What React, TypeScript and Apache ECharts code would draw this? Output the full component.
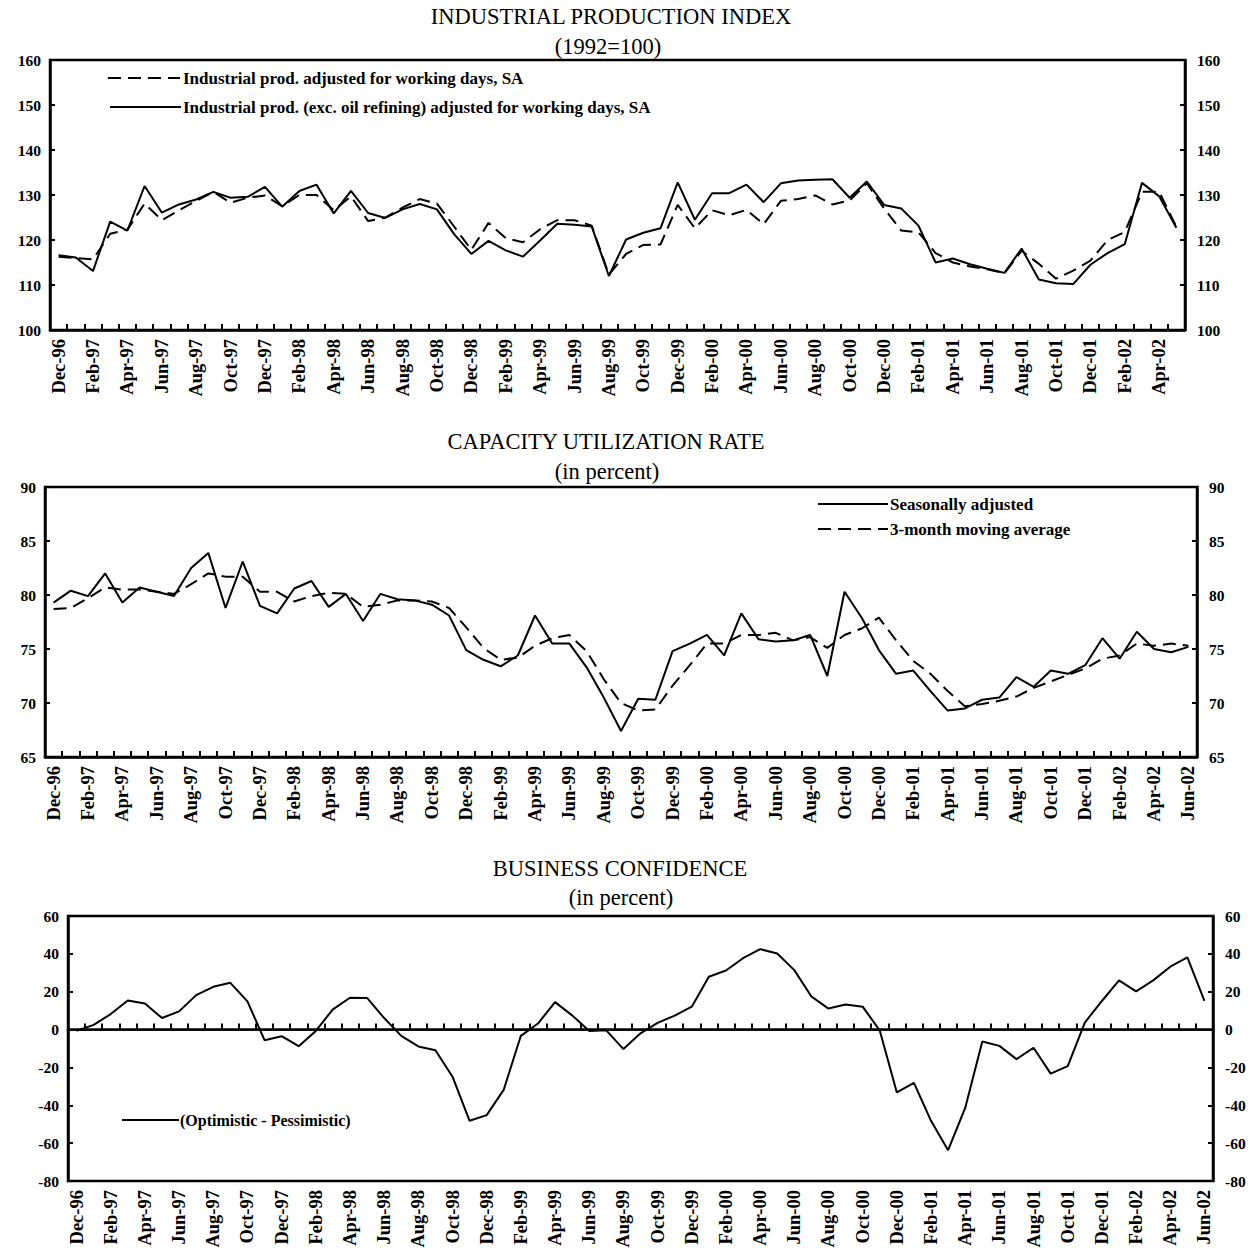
import React, { useEffect, useRef } from "react";
import * as echarts from "echarts";

const months = [
  "Dec-96","Jan-97","Feb-97","Mar-97","Apr-97","May-97","Jun-97","Jul-97","Aug-97","Sep-97","Oct-97","Nov-97",
  "Dec-97","Jan-98","Feb-98","Mar-98","Apr-98","May-98","Jun-98","Jul-98","Aug-98","Sep-98","Oct-98","Nov-98",
  "Dec-98","Jan-99","Feb-99","Mar-99","Apr-99","May-99","Jun-99","Jul-99","Aug-99","Sep-99","Oct-99","Nov-99",
  "Dec-99","Jan-00","Feb-00","Mar-00","Apr-00","May-00","Jun-00","Jul-00","Aug-00","Sep-00","Oct-00","Nov-00",
  "Dec-00","Jan-01","Feb-01","Mar-01","Apr-01","May-01","Jun-01","Jul-01","Aug-01","Sep-01","Oct-01","Nov-01",
  "Dec-01","Jan-02","Feb-02","Mar-02","Apr-02","May-02","Jun-02",
];
const monthsIP = months.slice(0, 66);

// Industrial production index (1992=100)
const ipAdjusted = [
  116.3, 116.0, 115.7, 121.4, 122.3, 128.1, 124.4, 126.6, 128.7, 130.7,
  128.3, 129.4, 129.9, 127.5, 130.0, 130.0, 126.6, 129.7, 124.2, 125.0,
  127.2, 129.1, 128.1, 123.0, 117.8, 123.8, 120.4, 119.5, 122.4, 124.4,
  124.4, 123.2, 112.3, 116.9, 118.9, 119.0, 127.8, 122.6, 126.6, 125.5,
  126.7, 123.5, 128.7, 129.1, 129.9, 127.9, 128.8, 132.6, 127.0, 122.1,
  121.7, 117.1, 115.0, 114.1, 113.5, 112.6, 117.6, 114.7, 111.4, 113.2,
  115.4, 120.0, 121.8, 130.7, 130.7, 122.9,
];
const ipExOil = [
  116.6, 116.1, 113.1, 124.1, 122.1, 132.0, 126.1, 127.9, 129.0, 130.7,
  129.4, 129.6, 131.8, 127.4, 130.9, 132.3, 125.9, 130.9, 126.0, 124.9,
  126.8, 128.0, 126.8, 121.3, 116.9, 119.8, 117.7, 116.3, 119.9, 123.6,
  123.4, 123.0, 112.0, 120.1, 121.6, 122.6, 132.8, 124.5, 130.4, 130.4,
  132.3, 128.4, 132.6, 133.2, 133.4, 133.5, 129.4, 133.0, 127.8, 127.0,
  123.2, 115.0, 115.9, 114.6, 113.6, 112.7, 118.1, 111.2, 110.4, 110.2,
  114.5, 117.1, 119.1, 132.7, 129.7, 122.7,
];

// Capacity utilization rate (%)
const cuSA = [
  79.3, 80.4, 79.9, 82.0, 79.3, 80.7, 80.3, 79.9, 82.5, 83.9,
  78.8, 83.1, 79.0, 78.3, 80.6, 81.3, 78.9, 80.1, 77.6, 80.1,
  79.6, 79.5, 79.1, 78.1, 74.9, 74.0, 73.4, 74.4, 78.1, 75.5,
  75.5, 73.3, 70.5, 67.4, 70.4, 70.3, 74.8, 75.5, 76.3, 74.4,
  78.3, 75.9, 75.7, 75.8, 76.3, 72.5, 80.3, 77.9, 74.9, 72.7,
  73.0, 71.1, 69.3, 69.5, 70.3, 70.5, 72.4, 71.5, 73.0, 72.7,
  73.5, 76.0, 74.1, 76.6, 75.0, 74.7, 75.2,
];
const cuMA3 = [
  78.7, 78.8, 79.7, 80.7, 80.5, 80.5, 80.3, 80.1, 81.0, 82.0,
  81.7, 81.7, 80.3, 80.3, 79.4, 79.9, 80.2, 80.1, 78.9, 79.1,
  79.5, 79.5, 79.4, 78.8, 77.0, 75.1, 74.0, 74.2, 75.3, 76.0,
  76.3, 74.8, 72.2, 70.0, 69.3, 69.4, 71.6, 73.5, 75.5, 75.5,
  76.3, 76.3, 76.5, 75.8, 76.1, 75.1, 76.3, 76.9, 77.9, 75.8,
  73.9, 72.7, 71.1, 69.7, 69.9, 70.2, 70.6, 71.4, 72.0, 72.6,
  73.2, 74.1, 74.4, 75.5, 75.3, 75.5, 75.3,
];

// Business confidence (Optimistic - Pessimistic, %)
const bizConf = [
  -0.7, 2.5, 8.2, 15.4, 13.8, 6.1, 9.6, 18.2, 22.6, 24.7,
  14.9, -5.6, -3.5, -8.8, -0.7, 10.7, 16.8, 16.7, 6.1, -3.3,
  -8.9, -10.9, -24.9, -48.2, -45.2, -31.7, -3.3, 3.2, 14.5, 7.5,
  -0.7, -0.4, -10.3, -2.0, 3.5, 7.4, 12.1, 27.9, 31.2, 37.7,
  42.5, 40.2, 31.4, 17.5, 11.1, 13.2, 12.1, -0.5, -33.2, -28.2,
  -48.2, -63.7, -41.4, -6.3, -8.6, -15.6, -9.6, -23.3, -19.3, 3.7,
  15.1, 26.0, 20.2, 26.0, 33.2, 38.1, 15.1,
];

const FONT = "'Liberation Serif', 'Times New Roman', serif";
const DASH = [13, 7];

function makeX(gridIndex: number, data: string[]) {
  return {
    type: "category",
    gridIndex,
    data,
    boundaryGap: true,
    axisLine: { show: true, lineStyle: { color: "#000", width: 2.5 } },
    axisTick: { show: true, inside: true, length: 6, interval: 0, lineStyle: { color: "#000", width: 2 } },
    axisLabel: {
      interval: 1,
      rotate: 90,
      margin: 9,
      color: "#000",
      fontFamily: FONT,
      fontSize: 18.5,
      fontWeight: "bold",
    },
    splitLine: { show: false },
  };
}

function makeY(gridIndex: number, min: number, max: number, interval: number, position: string) {
  return {
    type: "value",
    gridIndex,
    min,
    max,
    interval,
    position,
    axisLine: { show: true, lineStyle: { color: "#000", width: 2.5 } },
    axisTick: { show: true, inside: true, length: 5, lineStyle: { color: "#000", width: 2 } },
    axisLabel: {
      color: "#000",
      fontFamily: FONT,
      fontSize: 15.5,
      fontWeight: "bold",
      margin: position === "left" ? 9 : 12,
    },
    splitLine: { show: false },
  };
}

function line(name: string, data: number[], xi: number, yi: number, dashed: boolean, extra: any = {}) {
  return {
    name,
    type: "line",
    xAxisIndex: xi,
    yAxisIndex: yi,
    data,
    symbol: "none",
    lineStyle: { color: "#000", width: 2, type: dashed ? DASH : "solid" },
    silent: true,
    ...extra,
  };
}

function txt(x: number, y: number, text: string, size: number, align = "center", weight = "normal") {
  return {
    type: "text",
    x,
    y,
    style: {
      text,
      fontFamily: FONT,
      fontSize: size,
      fontWeight: weight,
      fill: "#000",
      textAlign: align,
      textVerticalAlign: "middle",
    },
  };
}

function legendLine(x1: number, x2: number, y: number, dashed: boolean) {
  return {
    type: "line",
    shape: { x1, y1: y, x2, y2: y },
    style: { stroke: "#000", lineWidth: 2, lineDash: dashed ? DASH : null },
  };
}

export default function App() {
  const ref = useRef<HTMLDivElement>(null);
  useEffect(() => {
    if (!ref.current) return;
    const chart = echarts.init(ref.current, null, { renderer: "svg" });
    const gridBase = { show: true, borderColor: "#000", borderWidth: 2.5, backgroundColor: "transparent" };
    chart.setOption({
      animation: false,
      backgroundColor: "#fff",
      grid: [
        { ...gridBase, left: 50, top: 60, width: 1135, height: 270 },
        { ...gridBase, left: 45, top: 487, width: 1152, height: 270 },
        { ...gridBase, left: 68, top: 916, width: 1145, height: 265 },
      ],
      xAxis: [makeX(0, monthsIP), makeX(1, months), makeX(2, months)],
      yAxis: [
        makeY(0, 100, 160, 10, "left"),
        makeY(0, 100, 160, 10, "right"),
        makeY(1, 65, 90, 5, "left"),
        makeY(1, 65, 90, 5, "right"),
        makeY(2, -80, 60, 20, "left"),
        makeY(2, -80, 60, 20, "right"),
      ],
      series: [
        line("Industrial prod. adjusted for working days, SA", ipAdjusted, 0, 0, true),
        line("Industrial prod. (exc. oil refining) adjusted for working days, SA", ipExOil, 0, 0, false),
        line("Seasonally adjusted", cuSA, 1, 2, false),
        line("3-month moving average", cuMA3, 1, 2, true),
        line("(Optimistic - Pessimistic)", bizConf, 2, 4, false, {
          markLine: {
            silent: true,
            symbol: ["none", "none"],
            label: { show: false },
            lineStyle: { color: "#000", width: 1.5, type: "solid" },
            data: [{ yAxis: 0 }],
          },
        }),
      ],
      graphic: [
        txt(611, 16, "INDUSTRIAL PRODUCTION INDEX", 22.5),
        txt(608, 46, "(1992=100)", 22.5),
        txt(606, 441, "CAPACITY UTILIZATION RATE", 22.5),
        txt(607, 471, "(in percent)", 22.5),
        txt(620, 868, "BUSINESS CONFIDENCE", 22.5),
        txt(621, 897, "(in percent)", 22.5),
        legendLine(108, 180, 78, true),
        txt(183, 78, "Industrial prod. adjusted for working days, SA", 17, "left", "bold"),
        legendLine(110, 181, 107, false),
        txt(183, 107, "Industrial prod. (exc. oil refining) adjusted for working days, SA", 17, "left", "bold"),
        legendLine(818, 888, 504, false),
        txt(890, 504, "Seasonally adjusted", 17, "left", "bold"),
        legendLine(818, 888, 529, true),
        txt(890, 529, "3-month moving average", 17, "left", "bold"),
        legendLine(122, 179, 1120, false),
        txt(180, 1120, "(Optimistic - Pessimistic)", 16, "left", "bold"),
      ],
    });
    return () => chart.dispose();
  }, []);
  return (
    <div
      ref={ref}
      style={{ position: "absolute", left: 0, top: 0, width: 1259, height: 1257, background: "#fff" }}
    />
  );
}
